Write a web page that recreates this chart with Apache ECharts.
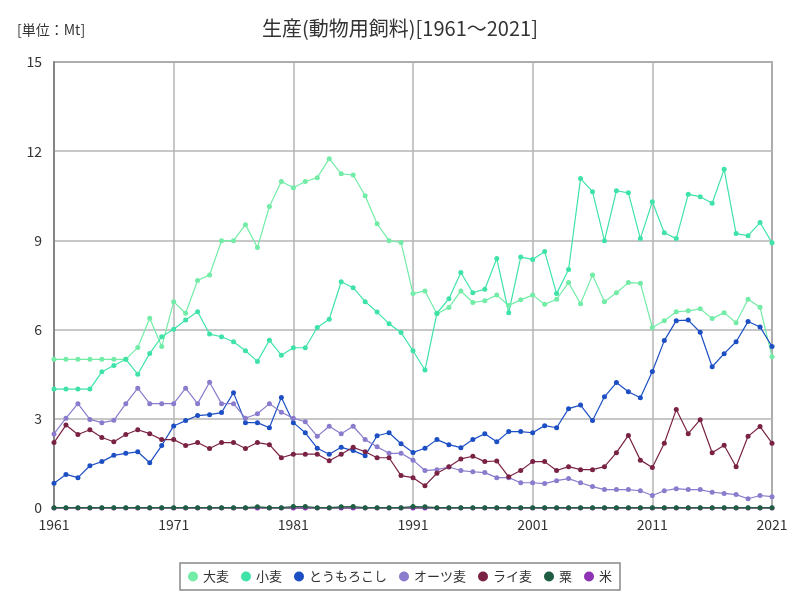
<!DOCTYPE html>
<html><head><meta charset="utf-8">
<script src="https://cdn.jsdelivr.net/npm/echarts@6/dist/echarts.min.js"></script>
<style>html,body{margin:0;padding:0;background:#fff}#c{width:800px;height:600px}</style>
</head><body><div id="c"></div>
<script>
const years = [];
for (let y = 1961; y <= 2021; y++) years.push(y);

const seriesNames = ['大麦','小麦','とうもろこし','オーツ麦','ライ麦','粟','米'];

const barley = [5.0,5.0,5.0,5.0,5.0,5.0,5.0,5.4,6.38,5.43,6.94,6.55,7.65,7.84,8.99,8.99,9.53,8.76,10.14,10.98,
10.77,10.98,11.11,11.75,11.24,11.2,10.5,9.56,8.99,8.93,7.21,7.3,6.53,6.74,7.3,6.91,6.97,7.16,6.81,7.0,
7.16,6.85,7.02,7.58,6.87,7.84,6.94,7.24,7.58,7.56,6.07,6.3,6.6,6.63,6.7,6.37,6.57,6.23,7.02,6.75,5.09];

const wheat = [4.0,4.0,4.0,4.0,4.58,4.79,5.0,4.5,5.2,5.76,6.01,6.32,6.6,5.85,5.76,5.59,5.29,4.93,5.64,5.14,
5.39,5.39,6.07,6.35,7.61,7.41,6.94,6.59,6.2,5.9,5.29,4.64,6.55,7.04,7.92,7.24,7.36,8.39,6.57,8.44,
8.36,8.63,7.21,8.02,11.08,10.64,8.99,10.67,10.6,9.06,10.3,9.26,9.06,10.55,10.47,10.25,11.39,9.23,9.16,9.6,8.92];

const maize = [0.83,1.13,1.02,1.42,1.56,1.77,1.84,1.89,1.52,2.1,2.76,2.94,3.11,3.14,3.21,3.88,2.87,2.87,2.7,3.72,
2.87,2.53,2.01,1.81,2.04,1.93,1.76,2.43,2.53,2.16,1.87,2.01,2.3,2.13,2.03,2.3,2.5,2.23,2.57,2.57,
2.53,2.77,2.7,3.34,3.46,2.94,3.74,4.22,3.91,3.71,4.59,5.63,6.3,6.32,5.91,4.75,5.19,5.59,6.27,6.09,5.43];

const oats = [2.49,3.02,3.51,2.98,2.87,2.95,3.51,4.03,3.51,3.51,3.51,4.03,3.51,4.23,3.51,3.51,3.02,3.17,3.51,3.22,
3.02,2.9,2.41,2.75,2.5,2.75,2.3,2.06,1.84,1.84,1.61,1.26,1.29,1.38,1.26,1.22,1.19,1.02,1.02,0.85,
0.85,0.82,0.92,0.99,0.85,0.72,0.62,0.62,0.62,0.58,0.42,0.58,0.65,0.62,0.62,0.53,0.49,0.45,0.31,0.42,0.38];

const rye = [2.2,2.79,2.47,2.63,2.37,2.23,2.47,2.63,2.5,2.3,2.3,2.1,2.2,2.0,2.2,2.2,2.0,2.2,2.13,1.69,
1.81,1.81,1.81,1.59,1.81,2.04,1.89,1.69,1.69,1.09,1.02,0.75,1.17,1.39,1.65,1.74,1.56,1.58,1.05,1.26,
1.56,1.56,1.26,1.39,1.29,1.29,1.39,1.86,2.44,1.61,1.36,2.18,3.31,2.5,2.97,1.86,2.11,1.39,2.41,2.74,2.18];

const millet = [0.01,0.01,0.01,0.01,0.01,0.01,0.01,0.01,0.01,0.01,0.01,0.01,0.01,0.01,0.01,0.01,0.01,0.04,0.01,0.01,
0.05,0.05,0.01,0.01,0.04,0.05,0.01,0.01,0.01,0.01,0.05,0.04,0.01,0.01,0.01,0.01,0.01,0.01,0.01,0.01,
0.01,0.01,0.01,0.01,0.01,0.01,0.01,0.01,0.01,0.01,0.01,0.01,0.01,0.01,0.01,0.01,0.01,0.01,0.01,0.01,0.01];

const rice = [0,0,0,0,0,0,0,0,0,0,0,0,0,0,0,0,0,0,0,0,
0,0,0,0,0,0,0,0,0,0,0,0,0,0,0,0,0,0,0,0,
0,0,0,0,0,0,0,0,0,0,0,0,0,0,0,0,0,0,0,0,0];

const yTicks = [0,3,6,9,12,15];
const xTicks = [1961,1971,1981,1991,2001,2011,2021];

const colors = ['#72eca6','#3fe3a8','#1d4fc4','#8a7bcc','#7a2244','#1f5e42','#8e33b3'];
const allData = [barley, wheat, maize, oats, rye, millet, rice];

const font = "'Noto Sans CJK JP','Noto Sans',sans-serif";
const chart = echarts.init(document.getElementById('c'));
chart.setOption({
  animation: false,
  color: colors,
  title: [
    {text: '生産(動物用飼料)[1961～2021]', left: 'center', top: 13,
     textStyle: {fontFamily: font, fontSize: 20, fontWeight: 'normal', color: '#333'}},
    {text: '[単位：Mt]', left: 12, top: 18,
     textStyle: {fontFamily: font, fontSize: 14, fontWeight: 'normal', color: '#333'}}
  ],
  grid: {left: 54, right: 28, top: 62, bottom: 92, show: true, borderColor: '#777', borderWidth: 1.5},
  legend: {
    bottom: 10, left: 'center', icon: 'circle', itemWidth: 10, itemHeight: 10, itemGap: 12,
    borderColor: '#888', borderWidth: 1.5, padding: [7, 8],
    textStyle: {fontFamily: font, fontSize: 13, color: '#333'},
    data: seriesNames
  },
  xAxis: {
    type: 'value', min: 1961, max: 2021, interval: 10,
    axisLine: {show: true, lineStyle: {color: '#777', width: 1.5}},
    axisTick: {show: false},
    axisLabel: {fontFamily: font, fontSize: 14, color: '#333', margin: 10,
      formatter: v => xTicks.includes(v) ? String(v) : ''},
    splitLine: {show: true, lineStyle: {color: '#b4b4b4', width: 1.5}}
  },
  yAxis: {
    type: 'value', min: 0, max: 15, interval: 3,
    axisLine: {show: true, lineStyle: {color: '#777', width: 1.5}},
    axisTick: {show: false},
    axisLabel: {fontFamily: font, fontSize: 14, color: '#333', margin: 12,
      formatter: v => yTicks.includes(v) ? String(v) : ''},
    splitLine: {show: true, lineStyle: {color: '#b4b4b4', width: 1.5}}
  },
  series: seriesNames.map((n, i) => ({
    name: n, type: 'line',
    data: years.map((y, j) => [y, allData[i][j]]),
    symbol: 'circle', symbolSize: 5, showSymbol: true,
    lineStyle: {width: 1.2},
    z: n === '粟' ? 4 : (n === '米' ? 2 : 3)
  }))
});
</script></body></html>
